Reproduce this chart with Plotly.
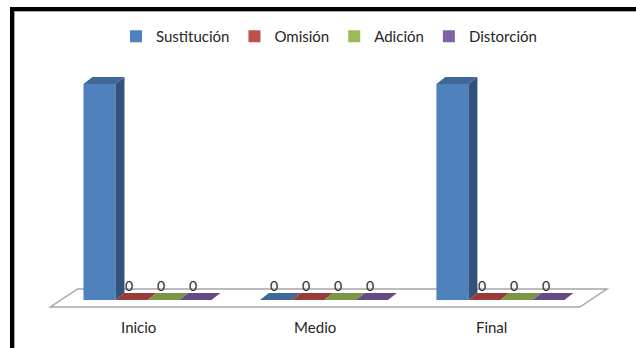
import plotly.graph_objects as go

# ---- data ----
categories = ["Inicio", "Medio", "Final"]
series_names = ["Sustitución", "Omisión", "Adición", "Distorción"]
sustitucion = [100, 0, 100]
omision = [0, 0, 0]
adicion = [0, 0, 0]
distorcion = [0, 0, 0]
series_values = [sustitucion, omision, adicion, distorcion]

# ---- styles ----
front_colors = ["#4F81BD", "#C0504D", "#9BBB59", "#8064A2"]
top_colors = ["#3F6798", "#9A3B38", "#7B9745", "#634B84"]
side_colors = ["#31527E", "#7E2F2D", "#647D38", "#51406E"]

W, H = 636, 348
ML, MR, MT, MB = 24, 12, 60, 36
XR = [-0.65, 2.75]
YR = [-5.556, 111.11]
pxu_x = (W - ML - MR) / (XR[1] - XR[0])
pxu_y = (H - MT - MB) / (YR[1] - YR[0])

bar_w = 32 / pxu_x
first_off = (83 - 50) / pxu_x - 0.5
dx = 9 / pxu_x
dy = 7 / pxu_y

xs = list(range(len(categories)))
fig = go.Figure()
shapes = []
annotations = []

# floor
fdx = 27 / pxu_x
yf = -7 / pxu_y
yb = 11 / pxu_y
shapes.append(dict(
    type="path", xref="x", yref="y", layer="below",
    path=f"M {-0.5},{yf} L {2.5},{yf} L {2.5 + fdx},{yb} L {-0.5 + fdx},{yb} Z",
    line=dict(color="#A6A6A6", width=1.5), fillcolor="white"))

for si, (name, vals) in enumerate(zip(series_names, series_values)):
    off = first_off + si * bar_w
    fig.add_trace(go.Bar(
        x=xs, y=vals, name=name, offset=off, width=bar_w,
        marker=dict(color=front_colors[si], line=dict(width=0)),
        hoverinfo="skip"))
    for xi, v in zip(xs, vals):
        x0 = xi + off
        x1 = x0 + bar_w
        if v > 0:
            shapes.append(dict(
                type="path", xref="x", yref="y", layer="above",
                path=f"M {x1},{0} L {x1},{v} L {x1 + dx},{v + dy} L {x1 + dx},{dy} Z",
                line=dict(width=0), fillcolor=side_colors[si]))
        shapes.append(dict(
            type="path", xref="x", yref="y", layer="above",
            path=f"M {x0},{v} L {x1},{v} L {x1 + dx},{v + dy} L {x0 + dx},{v + dy} Z",
            line=dict(width=0), fillcolor=top_colors[si]))
        if v == 0:
            annotations.append(dict(
                x=x0 + bar_w / 2 - 2 / pxu_x, y=v, xref="x", yref="y",
                text=str(v), showarrow=False, yanchor="middle", yshift=15,
                font=dict(size=14, color="#262626")))

# frame lines (left and top, thick black with thin grey inner line)
def px2paper_x(px):
    return (px - ML) / (W - ML - MR)

def px2paper_y(py):
    return (H - MB - py) / (H - MT - MB)

shapes += [
    dict(type="line", xref="paper", yref="paper", layer="above",
         x0=px2paper_x(12), x1=px2paper_x(12), y0=px2paper_y(7), y1=px2paper_y(350),
         line=dict(color="black", width=4)),
    dict(type="line", xref="paper", yref="paper", layer="above",
         x0=px2paper_x(10), x1=px2paper_x(640), y0=px2paper_y(9), y1=px2paper_y(9),
         line=dict(color="black", width=4)),
    dict(type="line", xref="paper", yref="paper", layer="above",
         x0=px2paper_x(14.5), x1=px2paper_x(14.5), y0=px2paper_y(11), y1=px2paper_y(350),
         line=dict(color="#A6A6A6", width=1)),
    dict(type="line", xref="paper", yref="paper", layer="above",
         x0=px2paper_x(14), x1=px2paper_x(640), y0=px2paper_y(11.5), y1=px2paper_y(11.5),
         line=dict(color="#A6A6A6", width=1)),
]

fig.update_layout(
    width=W, height=H,
    margin=dict(l=ML, r=MR, t=MT, b=MB, pad=0),
    paper_bgcolor="white", plot_bgcolor="white",
    barmode="overlay",
    font=dict(family="Lato, 'Open Sans', sans-serif", size=15, color="#262626"),
    showlegend=True,
    legend=dict(orientation="h", x=px2paper_x(329), xanchor="center",
                y=px2paper_y(20), yanchor="top",
                font=dict(size=15, color="#262626"),
                itemwidth=30, bgcolor="rgba(0,0,0,0)"),
    xaxis=dict(range=XR, tickmode="array", tickvals=xs, ticktext=categories,
               showgrid=False, zeroline=False, showline=False, ticks="",
               tickfont=dict(size=15, color="#262626"), ticklabelstandoff=5),
    yaxis=dict(range=YR, showgrid=False, zeroline=False, showline=False,
               showticklabels=False, ticks=""),
    shapes=shapes,
    annotations=annotations,
)

fig.write_html("out.html", config={"displayModeBar": False},
               post_script="document.body.style.margin='0';document.body.style.padding='0';")
